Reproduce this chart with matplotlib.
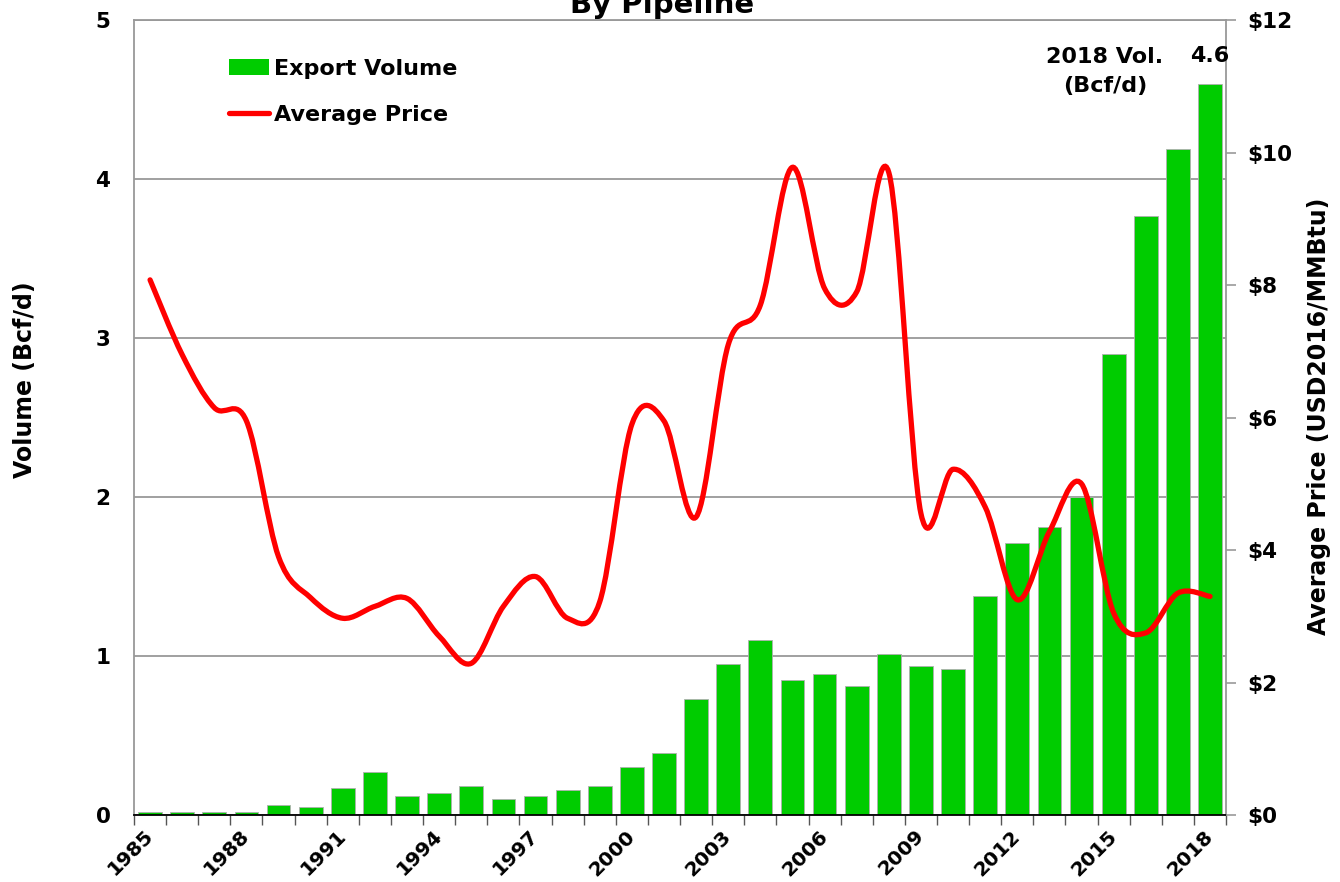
import matplotlib.pyplot as plt
import numpy as np
from matplotlib.path import Path
from matplotlib.patches import PathPatch, Patch
from matplotlib.lines import Line2D

plt.rcParams['font.family'] = 'DejaVu Sans'
plt.rcParams['font.weight'] = 'bold'

years = list(range(1985, 2019))
volume = [0.02, 0.02, 0.02, 0.02, 0.06, 0.05, 0.17, 0.27, 0.12, 0.14,
          0.18, 0.10, 0.12, 0.16, 0.18, 0.30, 0.39, 0.73, 0.95, 1.10,
          0.85, 0.89, 0.81, 1.01, 0.94, 0.92, 1.38, 1.71, 1.81, 2.00,
          2.90, 3.77, 4.19, 4.60]
price = [8.08, 6.95, 6.15, 5.95, 3.90, 3.28, 2.97, 3.15, 3.27, 2.70,
         2.29, 3.15, 3.60, 2.97, 3.22, 5.90, 5.95, 4.50, 7.10, 7.70,
         9.78, 7.95, 7.90, 9.70, 4.55, 5.22, 4.65, 3.25, 4.28, 5.00,
         3.05, 2.75, 3.35, 3.30]
year_labels = [str(y) for y in years[::3]]

GREEN = '#00cc00'
RED = '#ff0000'
GRID = '#999999'


def smooth_path(xs, ys):
    # Catmull-Rom style bezier through every point
    n = len(xs)
    verts = [(xs[0], ys[0])]
    codes = [Path.MOVETO]
    for i in range(n - 1):
        a = i - 1 if i > 0 else i
        d = i + 2 if i + 2 < n else i + 1
        c1 = (xs[i] + (xs[i + 1] - xs[a]) / 6, ys[i] + (ys[i + 1] - ys[a]) / 6)
        c2 = (xs[i + 1] - (xs[d] - xs[i]) / 6, ys[i + 1] - (ys[d] - ys[i]) / 6)
        verts += [c1, c2, (xs[i + 1], ys[i + 1])]
        codes += [Path.CURVE4] * 3
    return Path(verts, codes)


fig = plt.figure(figsize=(13.4, 8.82), dpi=100)
ax = fig.add_axes([0.1, 0.076, 0.815, 0.901])
x = np.arange(len(years))

ax.bar(x, volume, width=0.74, color=GREEN, edgecolor='#b0b0b0', linewidth=0.6, zorder=2)
ax.set_xlim(-0.5, len(years) - 0.5)
ax.set_ylim(0, 5)
ax.set_yticks(range(6))
ax.yaxis.grid(True, color=GRID, linewidth=1.3, zorder=0)
ax.set_axisbelow(True)
ax.tick_params(axis='y', length=0, pad=17, labelsize=15.5)

ax.set_xticks(x[::3])
ax.set_xticklabels(year_labels, rotation=45, ha='right', va='center',
                   rotation_mode='anchor', fontsize=14.5)
ax.tick_params(axis='x', which='major', length=0, pad=13)
ax.set_xticks(np.arange(-0.5, len(years), 1), minor=True)
ax.tick_params(axis='x', which='minor', length=7, color='#555555', width=1)

for side in ['left', 'top', 'right']:
    ax.spines[side].set_color(GRID)
    ax.spines[side].set_linewidth(1.3)
ax.spines['bottom'].set_color('black')
ax.spines['bottom'].set_linewidth(1.3)

ax2 = ax.twinx()
ax2.set_ylim(0, 12)
ax2.set_yticks(range(0, 13, 2))
ax2.set_yticklabels(['$%d' % v for v in range(0, 13, 2)])
ax2.tick_params(axis='y', length=7, color=GRID, width=1.2, pad=8, labelsize=15.5)
for side in ['left', 'top', 'right', 'bottom']:
    ax2.spines[side].set_visible(False)

ax2.add_patch(PathPatch(smooth_path(x.astype(float), price), facecolor='none',
                        edgecolor=RED, linewidth=3.8, capstyle='round', zorder=3))

handles = [Patch(facecolor=GREEN, edgecolor='none'),
           Line2D([0], [0], color=RED, linewidth=3.8, solid_capstyle='round')]
ax.legend(handles, ['Export Volume', 'Average Price'], loc='upper left',
          bbox_to_anchor=(0.069, 0.977), frameon=False, fontsize=16,
          handlelength=1.8, handletextpad=0.2, labelspacing=1.2)

ax.text(29.73, 4.83, '2018 Vol.\n(Bcf/d)', ha='center', va='top', fontsize=16,
        linespacing=1.55)
ax.text(x[-1], volume[-1] + 0.14, '%.1f' % volume[-1], ha='center',
        va='baseline', fontsize=16)

fig.text(0.494, 0.985, 'By Pipeline', ha='center', va='baseline', fontsize=21)
fig.text(0.019, 0.569, 'Volume (Bcf/d)', rotation=90, ha='center', va='center',
         fontsize=17)
fig.text(0.984, 0.528, 'Average Price (USD2016/MMBtu)', rotation=90,
         ha='center', va='center', fontsize=17)

fig.savefig('out.png', dpi=100)
